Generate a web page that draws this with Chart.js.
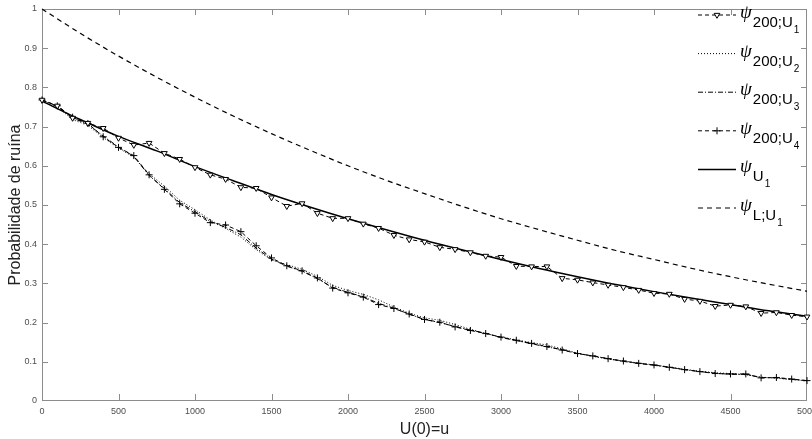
<!DOCTYPE html>
<html>
<head>
<meta charset="utf-8">
<script src="https://cdn.jsdelivr.net/npm/chart.js@4.4.0/dist/chart.umd.min.js"></script>
<style>
html, body { margin: 0; padding: 0; background: #fff; }
#wrap { width: 812px; height: 439px; }
</style>
</head>
<body>
<div id="wrap"><canvas id="myChart" width="812" height="439"></canvas></div>
<script>
// simulated curves, one point every 100
var uSim = [0, 100, 200, 300, 400, 500, 600, 700, 800, 900, 1000, 1100, 1200, 1300, 1400, 1500, 1600, 1700, 1800, 1900,
    2000, 2100, 2200, 2300, 2400, 2500, 2600, 2700, 2800, 2900, 3000, 3100, 3200, 3300, 3400, 3500, 3600, 3700, 3800, 3900,
    4000, 4100, 4200, 4300, 4400, 4500, 4600, 4700, 4800, 4900, 5000];
var psi200U1 = [0.768, 0.753, 0.722, 0.709, 0.696, 0.671, 0.653, 0.658, 0.632, 0.617, 0.596, 0.577, 0.566, 0.545, 0.543, 0.519, 0.497, 0.504, 0.479, 0.466,
    0.466, 0.452, 0.441, 0.423, 0.412, 0.406, 0.392, 0.387, 0.379, 0.370, 0.367, 0.344, 0.343, 0.343, 0.313, 0.309, 0.302, 0.296, 0.290, 0.283,
    0.275, 0.273, 0.260, 0.255, 0.242, 0.245, 0.241, 0.224, 0.226, 0.219, 0.215];
var psi200U2 = [0.768, 0.750, 0.718, 0.703, 0.672, 0.645, 0.622, 0.580, 0.548, 0.512, 0.488, 0.462, 0.440, 0.418, 0.386, 0.360, 0.348, 0.336, 0.318, 0.295,
    0.282, 0.272, 0.258, 0.240, 0.224, 0.212, 0.206, 0.195, 0.183, 0.172, 0.163, 0.156, 0.149, 0.143, 0.133, 0.122, 0.114, 0.107, 0.102, 0.097,
    0.092, 0.087, 0.081, 0.076, 0.072, 0.070, 0.067, 0.061, 0.058, 0.055, 0.051];
var psi200U3 = [0.768, 0.752, 0.722, 0.706, 0.676, 0.648, 0.624, 0.575, 0.542, 0.506, 0.483, 0.458, 0.443, 0.424, 0.390, 0.362, 0.344, 0.331, 0.312, 0.290,
    0.277, 0.266, 0.249, 0.237, 0.221, 0.208, 0.200, 0.190, 0.181, 0.173, 0.162, 0.154, 0.146, 0.138, 0.131, 0.121, 0.115, 0.108, 0.101, 0.096,
    0.091, 0.086, 0.080, 0.075, 0.071, 0.068, 0.068, 0.060, 0.059, 0.055, 0.052];
var psi200U4 = [0.768, 0.753, 0.724, 0.708, 0.674, 0.647, 0.626, 0.577, 0.540, 0.503, 0.479, 0.455, 0.449, 0.432, 0.396, 0.365, 0.345, 0.332, 0.314, 0.288,
    0.276, 0.265, 0.246, 0.236, 0.222, 0.208, 0.201, 0.189, 0.180, 0.172, 0.163, 0.155, 0.147, 0.139, 0.130, 0.121, 0.115, 0.108, 0.102, 0.096,
    0.092, 0.086, 0.080, 0.075, 0.070, 0.069, 0.069, 0.059, 0.060, 0.056, 0.052];

// exact and Lundberg curves
var uCurve = [0, 250, 500, 750, 1000, 1250, 1500, 1750, 2000, 2250, 2500, 2750, 3000, 3250, 3500, 3750, 4000, 4250, 4500, 4750, 5000];
var psiU1 = [0.765, 0.718, 0.675, 0.638, 0.598, 0.562, 0.527, 0.495, 0.465, 0.437, 0.410, 0.385, 0.361, 0.338, 0.317, 0.297, 0.279, 0.262, 0.246, 0.230, 0.216];
var psiLU1 = [1.0, 0.938, 0.880, 0.826, 0.775, 0.727, 0.682, 0.640, 0.600, 0.563, 0.529, 0.496, 0.465, 0.437, 0.410, 0.384, 0.361, 0.338, 0.317, 0.298, 0.280];

var legendSub = ['200;U', '200;U', '200;U', '200;U', 'U', 'L;U'];
var legendIdx = ['1', '2', '3', '4', '1', '1'];

function pairs(xs, ys) {
    return xs.map(function (x, i) { return { x: x, y: ys[i] }; });
}

var axisGray = '#8c8c8c';
var labelGray = '#4d4d4d';

// matlab style box with inward ticks (drawn as 1px rects)
var box = {
    id: 'box',
    beforeDatasetsDraw: function (chart) {
        var c = chart.ctx, a = chart.chartArea;
        var xs = chart.scales.x, ys = chart.scales.y;
        var len = 6;
        var L = Math.round(a.left), R = Math.round(a.right) - 1;
        var T = Math.round(a.top), B = Math.round(a.bottom) - 1;
        c.save();
        c.fillStyle = axisGray;
        c.fillRect(L, T, R - L + 1, 1);
        c.fillRect(L, B, R - L + 1, 1);
        c.fillRect(L, T, 1, B - T + 1);
        c.fillRect(R, T, 1, B - T + 1);
        xs.ticks.forEach(function (t) {
            var px = Math.round(xs.getPixelForValue(t.value));
            if (px >= R) px = R;
            c.fillRect(px, B - len, 1, len);
            c.fillRect(px, T, 1, len);
        });
        ys.ticks.forEach(function (t) {
            var py = Math.round(ys.getPixelForValue(t.value));
            if (py >= B) py = B;
            c.fillRect(L, py, len, 1);
            c.fillRect(R - len + 1, py, len, 1);
        });
        c.restore();
    }
};

// legend with psi and subscripts
var psiLegend = {
    id: 'psiLegend',
    afterDraw: function (chart) {
        var c = chart.ctx;
        var x0 = 698, x1 = 736, y0 = 15, step = 38.6;
        chart.data.datasets.forEach(function (ds, i) {
            var y = y0 + i * step;
            c.save();
            c.strokeStyle = '#000';
            c.lineWidth = ds.borderWidth;
            c.setLineDash(ds.borderDash || []);
            c.beginPath();
            c.moveTo(x0, y); c.lineTo(x1, y);
            c.stroke();
            c.setLineDash([]);
            if (ds.pointRadius > 0) {
                c.fillStyle = ds.pointBackgroundColor;
                c.strokeStyle = ds.pointBorderColor;
                c.lineWidth = 1;
                Chart.helpers.drawPoint(c, {
                    pointStyle: ds.pointStyle, rotation: ds.pointRotation || 0,
                    radius: ds.pointRadius, borderWidth: 1
                }, (x0 + x1) / 2, y);
            }
            c.fillStyle = '#000';
            c.textBaseline = 'alphabetic';
            c.font = 'italic 19px "Liberation Serif", "DejaVu Serif", serif';
            c.fillText('\u03c8', x1 + 4, y + 3);
            var sx = x1 + 4 + c.measureText('\u03c8').width + 1;
            c.font = '15px "Liberation Sans", Arial, sans-serif';
            c.fillText(legendSub[i], sx, y + 12);
            sx += c.measureText(legendSub[i]).width + 1;
            c.font = '10px "Liberation Sans", Arial, sans-serif';
            c.fillText(legendIdx[i], sx, y + 18);
            c.restore();
        });
    }
};

var ctx = document.getElementById('myChart').getContext('2d');
var myChart = new Chart(ctx, {
    type: 'line',
    data: {
        datasets: [{
            label: '\u03c8 200;U1',
            data: pairs(uSim, psi200U1),
            borderColor: '#000',
            borderWidth: 1,
            borderDash: [4, 3],
            pointStyle: 'triangle',
            pointRotation: 180,
            pointRadius: 3.3,
            pointBorderWidth: 1,
            pointBackgroundColor: '#fff',
            pointBorderColor: '#000'
        }, {
            label: '\u03c8 200;U2',
            data: pairs(uSim, psi200U2),
            borderColor: '#000',
            borderWidth: 1,
            borderDash: [1, 2],
            pointRadius: 0
        }, {
            label: '\u03c8 200;U3',
            data: pairs(uSim, psi200U3),
            borderColor: '#000',
            borderWidth: 1,
            borderDash: [5, 2, 1, 2],
            pointRadius: 0
        }, {
            label: '\u03c8 200;U4',
            data: pairs(uSim, psi200U4),
            borderColor: '#000',
            borderWidth: 1,
            borderDash: [4, 3],
            pointStyle: 'cross',
            pointRadius: 3.5,
            pointBorderWidth: 1,
            pointBackgroundColor: '#000',
            pointBorderColor: '#000'
        }, {
            label: '\u03c8 U1',
            data: pairs(uCurve, psiU1),
            borderColor: '#000',
            borderWidth: 1.5,
            pointRadius: 0,
            cubicInterpolationMode: 'monotone'
        }, {
            label: '\u03c8 L;U1',
            data: pairs(uCurve, psiLU1),
            borderColor: '#000',
            borderWidth: 1.2,
            borderDash: [5, 4],
            pointRadius: 0,
            cubicInterpolationMode: 'monotone'
        }]
    },
    options: {
        responsive: false,
        animation: false,
        clip: 6,
        layout: { padding: { top: 9, right: 4, left: 0, bottom: 0 } },
        plugins: {
            legend: { display: false },
            tooltip: { enabled: false }
        },
        scales: {
            x: {
                type: 'linear',
                min: 0,
                max: 5000,
                afterFit: function (s) { s.height = 38; s.paddingRight = 0; s.paddingLeft = 0; },
                grid: { display: false, drawTicks: false },
                border: { display: false },
                ticks: {
                    stepSize: 500,
                    padding: 5,
                    maxRotation: 0,
                    color: labelGray,
                    font: { family: '"Liberation Sans", Arial, sans-serif', size: 9 },
                    callback: function (v) { return String(v); }
                },
                title: {
                    display: true,
                    text: 'U(0)=u',
                    color: '#222',
                    padding: { top: 0, bottom: 0 },
                    font: { family: '"Liberation Sans", Arial, sans-serif', size: 16 }
                }
            },
            y: {
                min: 0,
                max: 1,
                afterFit: function (s) { s.width = 42; s.paddingTop = 0; s.paddingBottom = 0; },
                grid: { display: false, drawTicks: false },
                border: { display: false },
                ticks: {
                    stepSize: 0.1,
                    padding: 5,
                    color: labelGray,
                    font: { family: '"Liberation Sans", Arial, sans-serif', size: 9 },
                    callback: function (v) { return String(+v.toFixed(1)); }
                },
                title: {
                    display: true,
                    text: 'Probabilidade de ruína',
                    color: '#222',
                    padding: { top: 6, bottom: 0 },
                    font: { family: '"Liberation Sans", Arial, sans-serif', size: 16 }
                }
            }
        }
    },
    plugins: [box, psiLegend]
});
</script>
</body>
</html>
